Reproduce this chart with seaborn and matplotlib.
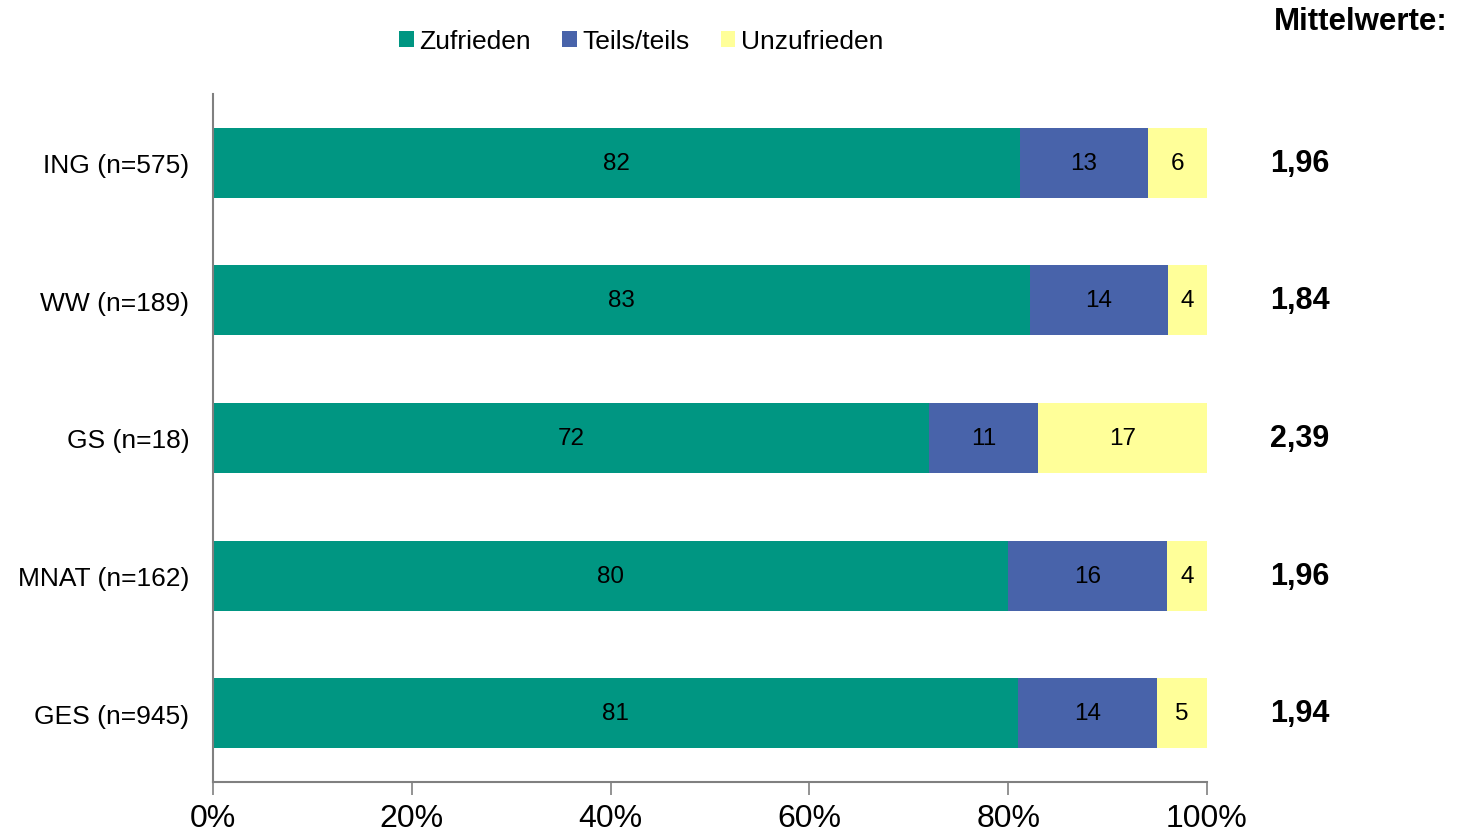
import numpy as np
import pandas as pd
import seaborn as sns
import matplotlib.pyplot as plt
from matplotlib.patches import Patch
from matplotlib.ticker import PercentFormatter

# Data
groups = ['ING (n=575)', 'WW (n=189)', 'GS (n=18)', 'MNAT (n=162)', 'GES (n=945)']
zufrieden = [82, 83, 72, 80, 81]
teils = [13, 14, 11, 16, 14]
unzufrieden = [6, 4, 17, 4, 5]
mittelwerte = ['1,96', '1,84', '2,39', '1,96', '1,94']

series_names = ['Zufrieden', 'Teils/teils', 'Unzufrieden']
colors = ['#009682', '#4863AA', '#FFFF99']

sns.set_theme(style='white')
plt.rcParams['font.family'] = ['Liberation Sans', 'DejaVu Sans']
plt.rcParams['text.color'] = 'black'
plt.rcParams['xtick.color'] = 'black'
plt.rcParams['ytick.color'] = 'black'

df = pd.DataFrame({'group': groups, 'Zufrieden': zufrieden,
                   'Teils/teils': teils, 'Unzufrieden': unzufrieden})
totals = df[series_names].sum(axis=1)
shares = df[series_names].div(totals, axis=0) * 100
cum = shares.cumsum(axis=1)

fig = plt.figure(figsize=(14.6, 8.37), dpi=100)
ax = fig.add_axes([213 / 1460, 1 - 783 / 837, 994 / 1460, 688 / 837])

# draw cumulative bars from the widest to the narrowest
for name, col in reversed(list(zip(series_names, colors))):
    sns.barplot(x=cum[name], y=df['group'], color=col, orient='h',
                width=0.51, saturation=1, ax=ax, edgecolor='none')

# segment labels and means
for i in range(len(groups)):
    for name in series_names:
        center = cum.loc[i, name] - shares.loc[i, name] / 2
        ax.text(center, i, str(df.loc[i, name]), ha='center', va='center',
                fontsize=17.5, color='black')
    ax.annotate(mittelwerte[i], xy=(1270 / 1460, i), xycoords=('figure fraction', 'data'),
                fontsize=22, fontweight='bold', va='center', ha='left')

fig.text(1448 / 1460, 1 - 22 / 837, 'Mittelwerte:', ha='right', va='center',
         fontsize=22.5, fontweight='bold')

ax.set_xlim(0, 100)
ax.set_ylim(4.5, -0.5)
ax.set_xticks(np.arange(0, 101, 20))
ax.xaxis.set_major_formatter(PercentFormatter(decimals=0))
ax.set_xlabel('')
ax.set_ylabel('')
ax.tick_params(axis='x', bottom=True, direction='out', length=9, width=1.2,
               color='#808080', labelcolor='black', labelsize=23, pad=6)
ax.tick_params(axis='y', left=False, length=0, labelsize=19, labelcolor='black', pad=17)

for side in ['top', 'right']:
    ax.spines[side].set_visible(False)
for side in ['left', 'bottom']:
    ax.spines[side].set_color('#808080')
    ax.spines[side].set_linewidth(1.5)

handles = [Patch(facecolor=c, edgecolor='none', label=n) for n, c in zip(series_names, colors)]
fig.legend(handles=handles, loc='center', bbox_to_anchor=(641 / 1460, 1 - 42 / 837),
           ncol=3, frameon=False, fontsize=19, handlelength=0.55, handleheight=0.55,
           handletextpad=0.2, columnspacing=1.2)

fig.savefig('out.png', dpi=100)
